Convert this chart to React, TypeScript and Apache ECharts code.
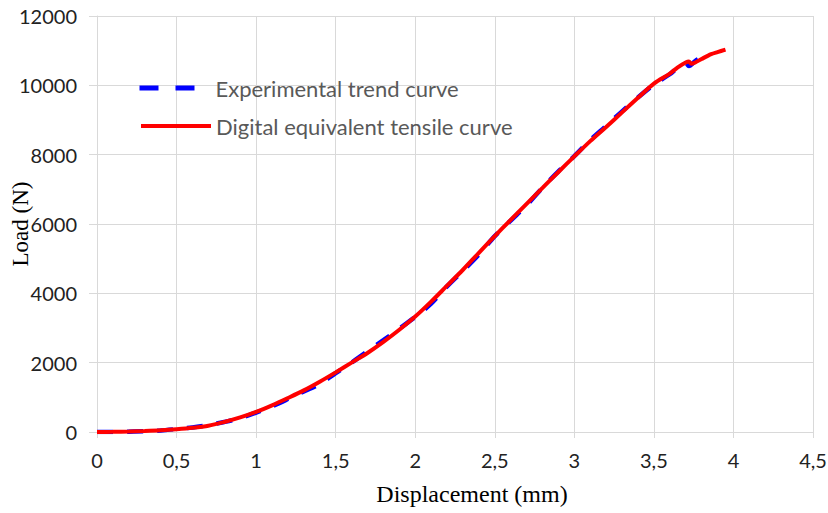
import React, { useEffect, useRef } from "react";
import * as echarts from "echarts";

const xTicksMax = 4.5;
const yTicksMax = 12000;

const expX = [0, 0.1, 0.2, 0.3, 0.4, 0.5, 0.6, 0.7, 0.8, 0.9, 1.0, 1.1, 1.2, 1.3, 1.4, 1.5, 1.6, 1.7, 1.8, 1.9, 2.0, 2.1, 2.2, 2.3, 2.4, 2.5, 2.6, 2.7, 2.8, 2.9, 3.0, 3.1, 3.2, 3.3, 3.4, 3.5, 3.6, 3.7, 3.72, 3.76, 3.8];
const expY = [0, 0, 10, 20, 45, 85, 130, 200, 290, 400, 560, 740, 950, 1170, 1380, 1700, 2000, 2330, 2650, 2980, 3320, 3700, 4200, 4650, 5120, 5650, 6100, 6540, 7050, 7520, 7960, 8420, 8830, 9250, 9650, 10020, 10320, 10650, 10560, 10700, 10820];

const digX = [0, 0.1, 0.2, 0.3, 0.4, 0.5, 0.6, 0.7, 0.8, 0.9, 1.0, 1.1, 1.2, 1.3, 1.4, 1.5, 1.6, 1.7, 1.8, 1.9, 2.0, 2.1, 2.2, 2.3, 2.4, 2.5, 2.6, 2.7, 2.8, 2.9, 3.0, 3.1, 3.2, 3.3, 3.4, 3.5, 3.6, 3.65, 3.7, 3.72, 3.735, 3.76, 3.8, 3.86, 3.9, 3.95];
const digY = [0, 5, 15, 30, 50, 80, 120, 180, 290, 420, 580, 770, 980, 1200, 1450, 1720, 2000, 2280, 2600, 2950, 3330, 3760, 4220, 4680, 5170, 5650, 6120, 6580, 7040, 7500, 7950, 8390, 8800, 9220, 9640, 10050, 10340, 10520, 10660, 10690, 10620, 10660, 10760, 10900, 10960, 11030];

const seriesNames = ["Experimental trend curve", "Digital equivalent tensile curve"];
const xTitle = "Displacement (mm)";
const yTitle = "Load (N)";

const sans = "Lato, 'Open Sans', sans-serif";
const serif = "'Liberation Serif', 'Times New Roman', serif";

export default function App() {
  const ref = useRef<HTMLDivElement>(null);
  useEffect(() => {
    if (!ref.current) return;
    const chart = echarts.init(ref.current, undefined, { renderer: "svg" });
    const gridColor = "#d9d9d9";
    chart.setOption({
      animation: false,
      backgroundColor: "#ffffff",
      grid: { left: 97, right: 15, top: 16, bottom: 81, containLabel: false, outerBoundsMode: "none" },
      legend: [
        {
          data: [seriesNames[0]],
          left: 137,
          top: 77,
          padding: 0,
          itemWidth: 56,
          itemHeight: 22,
          itemStyle: { opacity: 0 },
          lineStyle: { color: "#0000ff", width: 5, type: [19, 17] },
          textStyle: { color: "#595959", fontSize: 22, fontFamily: sans, padding: [0, 0, 0, 15] },
        },
        {
          data: [seriesNames[1]],
          left: 139,
          top: 115,
          padding: 0,
          itemWidth: 70,
          itemHeight: 22,
          itemStyle: { opacity: 0 },
          lineStyle: { color: "#ff0000", width: 4, type: "solid" },
          textStyle: { color: "#595959", fontSize: 22, fontFamily: sans, padding: [0, 0, 0, 0] },
        },
      ],
      xAxis: {
        type: "value",
        min: 0,
        max: xTicksMax,
        interval: 0.5,
        name: xTitle,
        nameLocation: "middle",
        nameGap: 50,
        nameMoveOverlap: false,
        nameTextStyle: { fontFamily: serif, fontSize: 24, color: "#000", padding: [0, 0, 0, 34] },
        axisLine: { show: true, lineStyle: { color: gridColor, width: 1 } },
        axisTick: { show: true, length: 6, lineStyle: { color: gridColor } },
        splitLine: { show: true, lineStyle: { color: gridColor, width: 1 } },
        axisLabel: {
          color: "#222",
          fontSize: 20,
          fontFamily: sans,
          margin: 18,
          formatter: (v: number) => String(v).replace(".", ","),
        },
      },
      yAxis: {
        type: "value",
        min: 0,
        max: yTicksMax,
        interval: 2000,
        name: yTitle,
        nameLocation: "middle",
        nameGap: 65,
        nameMoveOverlap: false,
        nameTextStyle: { fontFamily: serif, fontSize: 23, color: "#000" },
        axisLine: { show: true, lineStyle: { color: gridColor, width: 1 } },
        axisTick: { show: true, length: 8, lineStyle: { color: gridColor } },
        splitLine: { show: true, lineStyle: { color: gridColor, width: 1 } },
        axisLabel: { color: "#222", fontSize: 20, fontFamily: sans, margin: 20, formatter: (v: number) => String(v) },
      },
      series: [
        {
          name: seriesNames[0],
          type: "line",
          data: expX.map((x, i) => [x, expY[i]]),
          symbol: "none",
          smooth: 0.3,
          lineStyle: { color: "#0000ff", width: 4.5, type: [16, 14] },
          itemStyle: { color: "#0000ff" },
          z: 2,
        },
        {
          name: seriesNames[1],
          type: "line",
          data: digX.map((x, i) => [x, digY[i]]),
          symbol: "none",
          smooth: 0.3,
          lineStyle: { color: "#ff0000", width: 4 },
          itemStyle: { color: "#ff0000" },
          z: 3,
        },
      ],
    });
    return () => chart.dispose();
  }, []);
  return <div ref={ref} style={{ width: 828, height: 513, position: "absolute", left: 0, top: 0 }} />;
}
